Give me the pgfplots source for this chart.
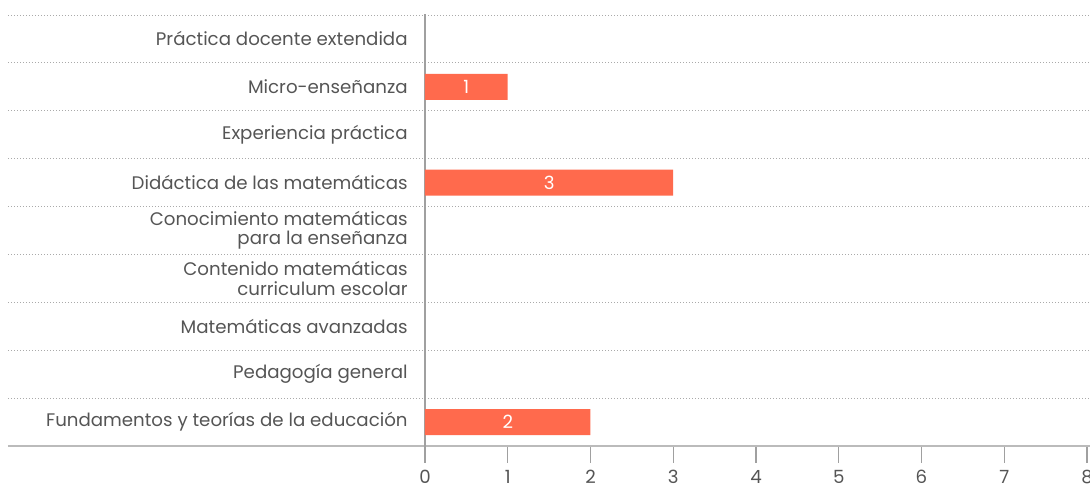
\documentclass[border=0pt]{standalone}
\usepackage{pgfplots}
\pgfplotsset{compat=1.18}
\usepackage{fontspec}
\setmainfont{Poppins}
\definecolor{barc}{HTML}{FF6A4D}
\definecolor{txt}{HTML}{555555}
\definecolor{gridc}{HTML}{AAAAAA}
\definecolor{axc}{HTML}{BBBBBB}
\definecolor{tickc}{HTML}{A0A0A0}
\begin{document}
\begin{tikzpicture}
\begin{axis}[
  at={(0,0)}, anchor=south west,
  scale only axis,
  width=331pt, height=215.5pt,
  xmin=0, xmax=8, ymin=-0.5, ymax=8.5,
  axis line style={draw=none},
  clip=false,
  xtick={0,...,8},
  xtick pos=bottom,
  ytick pos=left,
  major tick length=0pt,
  xtick style={draw=none},
  ytick={0,...,8},
  ytick style={draw=none},
  yticklabels={Fundamentos y teorías de la educación, Pedagogía general, Matemáticas avanzadas, {Contenido matemáticas\\curriculum escolar}, {Conocimiento matemáticas\\para la enseñanza}, Didáctica de las matemáticas, Experiencia práctica, Micro-enseñanza, Práctica docente extendida},
  yticklabel style={align=right, font=\fontsize{9.1}{9.6}\selectfont, text=txt, inner sep=0pt, xshift=-8.5pt},
  xticklabel style={font=\fontsize{9.1}{10}\selectfont, text=txt, inner sep=0pt, anchor=north, yshift=-12pt},
  /pgf/number format/assume math mode=true,
]
\pgfplotsinvokeforeach{0.5,1.5,2.5,3.5,4.5,5.5,6.5,7.5,8.5}{
  \draw[gridc, line width=0.5pt, dash pattern=on 0.5pt off 1pt] ([xshift=-208.5pt]axis cs:0,#1) -- ([xshift=1.5pt]axis cs:8,#1);
}
\pgfplotsinvokeforeach{1,2,3,4,5,6,7,8}{
  \draw[tickc, line width=0.6pt] (axis cs:#1,-0.5) -- ++(0pt,-8.5pt);
}
\draw[axc, line width=0.9pt] ([xshift=-208.5pt]axis cs:0,-0.5) -- ([xshift=1.5pt]axis cs:8,-0.5);
\draw[tickc, line width=0.6pt] ([yshift=0.5pt]axis cs:0,8.5) -- ([yshift=-8.5pt]axis cs:0,-0.5);
\addplot[xbar, bar width=13pt, fill=barc, draw=none] coordinates {(2,0) (3,5) (1,7)};
\addplot[draw=none, mark=none, forget plot,
  nodes near coords, point meta=explicit symbolic,
  every node near coord/.append style={anchor=center, text=white, font=\fontsize{9.1}{10}\selectfont}]
  coordinates {(1,0)[2] (1.5,5)[3] (0.5,7)[1]};
\end{axis}
\pgfresetboundingbox
\useasboundingbox (-212.5pt,-21.5pt) rectangle (332.5pt,223pt);
\end{tikzpicture}
\end{document}
